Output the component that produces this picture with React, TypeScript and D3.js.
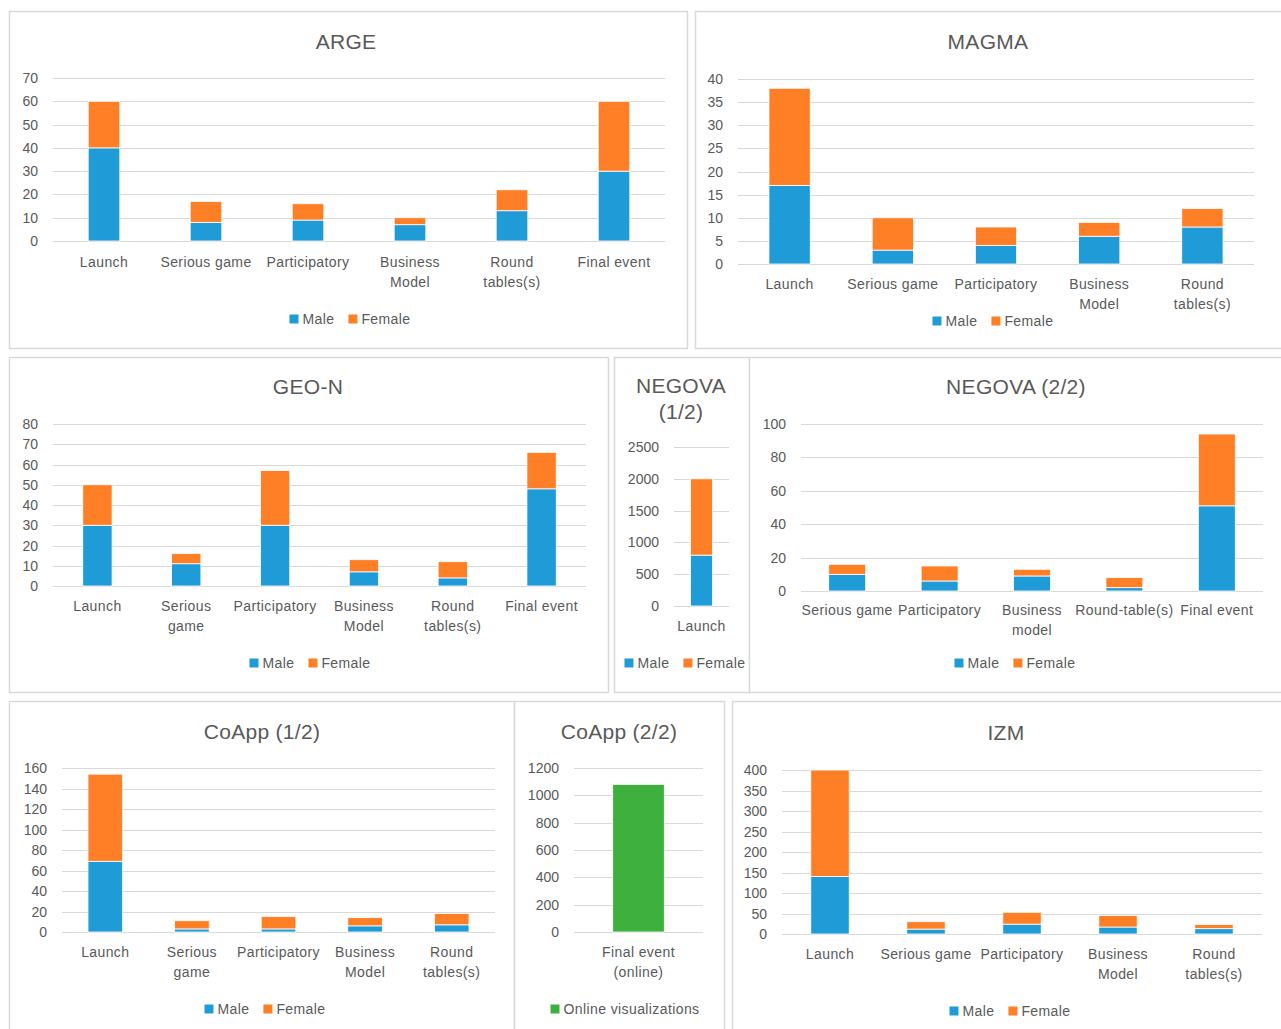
import * as d3 from 'd3'

// ---- data ----
const argeCategories = ['Launch', 'Serious game', 'Participatory', 'Business\nModel', 'Round\ntables(s)', 'Final event']
const argeMale = [40, 8, 9, 7, 13, 30]
const argeFemale = [20, 9, 7, 3, 9, 30]

const magmaCategories = ['Launch', 'Serious game', 'Participatory', 'Business\nModel', 'Round\ntables(s)']
const magmaMale = [17, 3, 4, 6, 8]
const magmaFemale = [21, 7, 4, 3, 4]

const geoCategories = ['Launch', 'Serious\ngame', 'Participatory', 'Business\nModel', 'Round\ntables(s)', 'Final event']
const geoMale = [30, 11, 30, 7, 4, 48]
const geoFemale = [20, 5, 27, 6, 8, 18]

const negova1Categories = ['Launch']
const negova1Male = [800]
const negova1Female = [1200]

const negova2Categories = ['Serious game', 'Participatory', 'Business\nmodel', 'Round-table(s)', 'Final event']
const negova2Male = [10, 6, 9, 2, 51]
const negova2Female = [6, 9, 4, 6, 43]

const coapp1Categories = ['Launch', 'Serious\ngame', 'Participatory', 'Business\nModel', 'Round\ntables(s)']
const coapp1Male = [69, 3, 3, 6, 7]
const coapp1Female = [85, 8, 12, 8, 11]

const coapp2Categories = ['Final event\n(online)']
const coapp2Online = [1080]

const izmCategories = ['Launch', 'Serious game', 'Participatory', 'Business\nModel', 'Round\ntables(s)']
const izmMale = [140, 12, 24, 17, 13]
const izmFemale = [260, 18, 29, 28, 10]

const BLUE = '#1F9BD7'
const ORANGE = '#FF7F27'
const GREEN = '#3DB03D'
const TEXT = '#595959'
const GRID = '#D9D9D9'
const FONT = '"Liberation Sans", Arial, sans-serif'

type Series = { name: string; color: string; values: number[] }
type PanelSpec = {
  key: string
  box: [number, number, number, number]
  title: string[]
  titleX: number
  titleY: number
  categories: string[]
  series: Series[]
  yMax: number
  yStep: number
  plot: { left: number; right: number; top: number; bottom: number }
  labelY: number
  legendX: number
  legendY: number
  barFrac: number
}

const mf = (male: number[], female: number[]): Series[] => [
  { name: 'Male', color: BLUE, values: male },
  { name: 'Female', color: ORANGE, values: female },
]

const panels: PanelSpec[] = [
  {
    key: 'arge', box: [9, 11, 678, 337], title: ['ARGE'], titleX: 346, titleY: 41,
    categories: argeCategories, series: mf(argeMale, argeFemale), yMax: 70, yStep: 10,
    plot: { left: 53, right: 665, top: 78, bottom: 241 }, labelY: 262, legendX: 350, legendY: 319, barFrac: 0.31,
  },
  {
    key: 'magma', box: [695, 11, 600, 337], title: ['MAGMA'], titleX: 988, titleY: 41,
    categories: magmaCategories, series: mf(magmaMale, magmaFemale), yMax: 40, yStep: 5,
    plot: { left: 738, right: 1254, top: 79, bottom: 264 }, labelY: 284, legendX: 993, legendY: 321, barFrac: 0.4,
  },
  {
    key: 'geo', box: [9, 357, 599, 335], title: ['GEO-N'], titleX: 308, titleY: 386,
    categories: geoCategories, series: mf(geoMale, geoFemale), yMax: 80, yStep: 10,
    plot: { left: 53, right: 586, top: 424, bottom: 586 }, labelY: 606, legendX: 310, legendY: 663, barFrac: 0.33,
  },
  {
    key: 'negova1', box: [614, 357, 135, 335], title: ['NEGOVA', '(1/2)'], titleX: 681, titleY: 385,
    categories: negova1Categories, series: mf(negova1Male, negova1Female), yMax: 2500, yStep: 500,
    plot: { left: 674, right: 729, top: 447, bottom: 606 }, labelY: 626, legendX: 685, legendY: 663, barFrac: 0.4,
  },
  {
    key: 'negova2', box: [749, 357, 546, 335], title: ['NEGOVA (2/2)'], titleX: 1016, titleY: 386,
    categories: negova2Categories, series: mf(negova2Male, negova2Female), yMax: 100, yStep: 20,
    plot: { left: 801, right: 1263, top: 424, bottom: 591 }, labelY: 610, legendX: 1015, legendY: 663, barFrac: 0.4,
  },
  {
    key: 'coapp1', box: [9, 701, 505, 340], title: ['CoApp (1/2)'], titleX: 262, titleY: 731,
    categories: coapp1Categories, series: mf(coapp1Male, coapp1Female), yMax: 160, yStep: 20,
    plot: { left: 62, right: 495, top: 768, bottom: 932 }, labelY: 952, legendX: 265, legendY: 1009, barFrac: 0.4,
  },
  {
    key: 'coapp2', box: [514, 701, 210, 340], title: ['CoApp (2/2)'], titleX: 619, titleY: 731,
    categories: coapp2Categories, series: [{ name: 'Online visualizations', color: GREEN, values: coapp2Online }],
    yMax: 1200, yStep: 200,
    plot: { left: 574, right: 703, top: 768, bottom: 932 }, labelY: 952, legendX: 625, legendY: 1009, barFrac: 0.4,
  },
  {
    key: 'izm', box: [732, 701, 560, 340], title: ['IZM'], titleX: 1006, titleY: 732,
    categories: izmCategories, series: mf(izmMale, izmFemale), yMax: 400, yStep: 50,
    plot: { left: 782, right: 1262, top: 770, bottom: 934 }, labelY: 954, legendX: 1010, legendY: 1011, barFrac: 0.4,
  },
]

const LABEL_SPACING = 0.4

let measureCtx: CanvasRenderingContext2D | null = null
function textWidth(s: string, size: number) {
  if (!measureCtx) measureCtx = document.createElement('canvas').getContext('2d')
  if (!measureCtx) return s.length * size * 0.5
  measureCtx.font = `${size}px ${FONT}`
  return measureCtx.measureText(s).width + s.length * LABEL_SPACING
}

function Panel({ p }: { p: PanelSpec }) {
  const x = d3.scaleBand<string>().domain(p.categories).range([p.plot.left, p.plot.right])
  const y = d3.scaleLinear().domain([0, p.yMax]).range([p.plot.bottom, p.plot.top])
  const ticks = d3.range(0, p.yMax + p.yStep / 2, p.yStep)

  const rows = p.categories.map((c, i) => {
    const r: Record<string, any> = { cat: c }
    p.series.forEach((s) => (r[s.name] = s.values[i]))
    return r
  })
  const stacked = d3.stack<Record<string, any>>().keys(p.series.map((s) => s.name))(rows)
  const bw = x.bandwidth() * p.barFrac

  // legend layout, centred on legendX
  const legendFont = 14
  const itemWidths = p.series.map((s) => 9 + 4 + textWidth(s.name, legendFont))
  const totalW = d3.sum(itemWidths) + 14 * (p.series.length - 1)
  let cursor = p.legendX - totalW / 2
  const legendItems = p.series.map((s, i) => {
    const lx = cursor
    cursor += itemWidths[i] + 14
    return { s, lx }
  })

  const [bx, by, bwid, bh] = p.box
  return (
    <g>
      <rect x={bx + 0.5} y={by + 0.5} width={bwid} height={bh} fill="#fff" stroke={GRID} strokeWidth={1.5} />
      <text x={p.titleX} textAnchor="middle" fill={TEXT} fontSize={21} fontFamily={FONT} letterSpacing={0.3}>
        {p.title.map((t, i) => (
          <tspan key={i} x={p.titleX} y={p.titleY + i * 26} dominantBaseline="central">
            {t}
          </tspan>
        ))}
      </text>
      {ticks.map((t) => (
        <g key={t}>
          <line x1={p.plot.left} x2={p.plot.right} y1={Math.round(y(t)) + 0.5} y2={Math.round(y(t)) + 0.5} stroke={GRID} strokeWidth={1.2} />
          <text x={p.plot.left - 15} y={y(t)} textAnchor="end" dominantBaseline="central" fontSize={14} fill={TEXT} fontFamily={FONT}>
            {t}
          </text>
        </g>
      ))}
      {stacked.map((layer, li) => (
        <g key={layer.key} fill={p.series[li].color}>
          {layer.map((d, i) => {
            const cat = p.categories[i]
            const cx = (x(cat) ?? 0) + x.bandwidth() / 2
            return (
              <rect
                key={cat}
                x={cx - bw / 2}
                y={y(d[1])}
                width={bw}
                height={Math.max(0, y(d[0]) - y(d[1]))}
                stroke="#fff"
                strokeWidth={0.8}
              />
            )
          })}
        </g>
      ))}
      {p.categories.map((c) => {
        const cx = (x(c) ?? 0) + x.bandwidth() / 2
        return (
          <text key={c} textAnchor="middle" fontSize={14} fill={TEXT} fontFamily={FONT} letterSpacing={LABEL_SPACING}>
            {c.split('\n').map((line, i) => (
              <tspan key={i} x={cx} y={p.labelY + i * 20} dominantBaseline="central">
                {line}
              </tspan>
            ))}
          </text>
        )
      })}
      {legendItems.map(({ s, lx }) => (
        <g key={s.name}>
          <rect x={lx} y={p.legendY - 4.5} width={9} height={9} fill={s.color} />
          <text x={lx + 13} y={p.legendY} dominantBaseline="central" fontSize={legendFont} fill={TEXT} fontFamily={FONT} letterSpacing={LABEL_SPACING}>
            {s.name}
          </text>
        </g>
      ))}
    </g>
  )
}

export default function App() {
  return (
    <div style={{ position: 'absolute', left: 0, top: 0 }}>
      <svg width={1281} height={1029} viewBox="0 0 1281 1029" style={{ display: 'block', background: '#fff' }}>
        <rect width={1281} height={1029} fill="#fff" />
        {panels.map((p) => (
          <Panel key={p.key} p={p} />
        ))}
      </svg>
    </div>
  )
}
